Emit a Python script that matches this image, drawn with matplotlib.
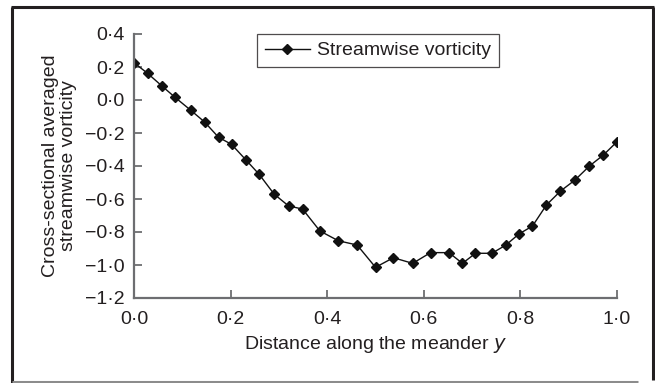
import matplotlib
matplotlib.use("Agg")
import matplotlib.pyplot as plt
from matplotlib.lines import Line2D
from matplotlib.ticker import FixedLocator, FuncFormatter

plt.rcParams['font.family'] = ['Liberation Sans', 'DejaVu Sans']

# Distance along the meander and cross-sectional averaged streamwise vorticity
distance = [0.000, 0.028, 0.057, 0.085, 0.117, 0.146, 0.175, 0.202, 0.232,
            0.259, 0.290, 0.320, 0.349, 0.385, 0.423, 0.462, 0.500, 0.537,
            0.577, 0.614, 0.652, 0.680, 0.707, 0.741, 0.770, 0.797, 0.825,
            0.854, 0.883, 0.913, 0.943, 0.972, 1.000]
vorticity = [0.226, 0.162, 0.087, 0.016, -0.061, -0.133, -0.226, -0.269, -0.364,
             -0.450, -0.570, -0.642, -0.661, -0.794, -0.853, -0.879, -1.014, -0.956,
             -0.990, -0.925, -0.925, -0.990, -0.929, -0.929, -0.879, -0.812, -0.764,
             -0.636, -0.552, -0.485, -0.400, -0.333, -0.253]

x_ticks = [0.0, 0.2, 0.4, 0.6, 0.8, 1.0]
y_ticks = [-1.2, -1.0, -0.8, -0.6, -0.4, -0.2, 0.0, 0.2, 0.4]
series_name = "Streamwise vorticity"

W, H = 655, 383
FS = 14
fig = plt.figure(figsize=(W / 100, H / 100), dpi=100)

# outer frame of the figure
def fx(px):
    return px / W

def fy(py):
    return 1 - py / H

frame_kw = dict(transform=fig.transFigure, color='#231f20', lw=2.2, solid_capstyle='butt')
fig.add_artist(Line2D([fx(12), fx(12)], [fy(383), fy(7)], **frame_kw))
fig.add_artist(Line2D([fx(11), fx(653.5)], [fy(7), fy(7)], **frame_kw))
fig.add_artist(Line2D([fx(653), fx(653)], [fy(7), fy(380)], **frame_kw))
fig.add_artist(Line2D([fx(12), fx(638)], [fy(381.8), fy(381.8)], transform=fig.transFigure,
                      color='#8c8c8c', lw=2.2, solid_capstyle='butt'))

ax = fig.add_axes([134 / W, 1 - 298 / H, (617 - 134) / W, (298 - 34) / H])

ax.plot(distance, vorticity, color='#111111', lw=1.0, marker='D', markersize=5.2,
        markerfacecolor='#111111', markeredgecolor='#111111', label=series_name)

ax.set_xlim(0, 1.0)
ax.set_ylim(-1.2, 0.4)
ax.xaxis.set_major_locator(FixedLocator(x_ticks))
ax.yaxis.set_major_locator(FixedLocator(y_ticks))

def fmt(v, pos):
    s = f"{abs(v):.1f}".replace('.', '\u00b7')
    return ('\u2212' + s) if v < -1e-9 else s

ax.xaxis.set_major_formatter(FuncFormatter(fmt))
ax.yaxis.set_major_formatter(FuncFormatter(fmt))

spine_color = '#6d6e71'
for side in ('top', 'right'):
    ax.spines[side].set_visible(False)
for side in ('left', 'bottom'):
    ax.spines[side].set_color(spine_color)
    ax.spines[side].set_linewidth(1.6)

ax.tick_params(axis='both', direction='in', length=6, width=1.3, color=spine_color,
               labelsize=FS, labelcolor='#231f20')
ax.tick_params(axis='x', pad=9.5)
ax.tick_params(axis='y', pad=6.5)

ax.set_xlabel("Distance along the meander $\\mathit{y}$", fontsize=FS, color='#231f20',
              labelpad=4.5)
ax.set_ylabel("Cross-sectional averaged\nstreamwise vorticity", fontsize=FS,
              color='#231f20', labelpad=6, linespacing=1.05)

leg = ax.legend(loc='upper left', bbox_to_anchor=((257 - 134) / (617 - 134), 1.0),
                frameon=True, fancybox=False, fontsize=FS, handlelength=2.3,
                borderpad=0.4, handletextpad=0.4, borderaxespad=0.0)
leg.get_frame().set_edgecolor('#231f20')
leg.get_frame().set_linewidth(0.9)
for t in leg.get_texts():
    t.set_color('#231f20')

fig.savefig("out.png", dpi=100)
